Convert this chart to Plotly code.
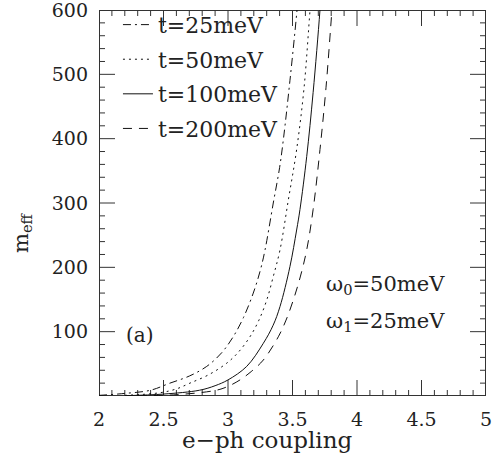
import plotly.graph_objects as go

# ---- data ----
x_t25 = [2.0, 2.2, 2.4, 2.55, 2.7, 2.835, 2.95, 3.04, 3.12, 3.196, 3.25, 3.287, 3.351, 3.40, 3.43, 3.48, 3.535, 3.56]
y_t25 = [1, 4, 9, 20, 31, 46, 67, 92, 122, 160, 195, 227, 300, 355, 400, 490, 600, 660]

x_t50 = [2.2, 2.47, 2.6, 2.705, 2.85, 2.99, 3.08, 3.17, 3.24, 3.30, 3.35, 3.403, 3.468, 3.532, 3.59, 3.636, 3.66]
y_t50 = [1, 5, 11, 20, 33, 51, 68, 92, 118, 149, 185, 227, 305, 383, 480, 600, 660]

x_t100 = [2.2, 2.5, 2.78, 2.9, 3.0, 3.145, 3.274, 3.35, 3.403, 3.48, 3.532, 3.558, 3.61, 3.66, 3.713, 3.74]
y_t100 = [0.5, 3, 9, 16, 25, 46, 82, 110, 139, 201, 258, 290, 372, 472, 600, 680]

x_t200 = [2.3, 2.6, 2.91, 3.0, 3.093, 3.18, 3.274, 3.39, 3.45, 3.506, 3.56, 3.61, 3.66, 3.713, 3.76, 3.806, 3.83]
y_t200 = [0.5, 2, 9, 15, 25, 38, 56, 92, 118, 149, 185, 227, 290, 383, 480, 600, 660]

series_names = ["t=25meV", "t=50meV", "t=100meV", "t=200meV"]

# axis ticks
x_major_ticks = [2, 2.5, 3, 3.5, 4, 4.5, 5]
y_major_ticks = [0, 100, 200, 300, 400, 500, 600]
x_minor_step = 0.1
y_minor_step = 20

X_RANGE = [2, 5]
Y_RANGE = [0, 600]

FONT = "DejaVu Serif"
INK = "#222222"
AX = "#333333"

# plot area size in px (for tick lengths)
PLOT_W, PLOT_H = 387, 386
PX_X = PLOT_W / (X_RANGE[1] - X_RANGE[0])
PX_Y = PLOT_H / (Y_RANGE[1] - Y_RANGE[0])
MAJOR_LEN, MINOR_LEN = 16, 6

fig = go.Figure()

# ---- frame and ticks drawn as line traces (through the axes' scales) ----
fx = [X_RANGE[0], X_RANGE[1], X_RANGE[1], X_RANGE[0], X_RANGE[0]]
fy = [Y_RANGE[0], Y_RANGE[0], Y_RANGE[1], Y_RANGE[1], Y_RANGE[0]]
fig.add_trace(go.Scatter(x=fx, y=fy, mode="lines", line=dict(color=AX, width=2),
                         showlegend=False, hoverinfo="skip"))

n_xminor = int(round((X_RANGE[1] - X_RANGE[0]) / x_minor_step))
x_minor_ticks = [round(X_RANGE[0] + i * x_minor_step, 3) for i in range(n_xminor + 1)]
x_minor_ticks = [v for v in x_minor_ticks if all(abs(v - m) > 1e-6 for m in x_major_ticks)]
n_yminor = int(round((Y_RANGE[1] - Y_RANGE[0]) / y_minor_step))
y_minor_ticks = [Y_RANGE[0] + i * y_minor_step for i in range(n_yminor + 1)]
y_minor_ticks = [v for v in y_minor_ticks if v not in y_major_ticks]

tx, ty = [], []
for vals, ln in ((x_major_ticks, MAJOR_LEN), (x_minor_ticks, MINOR_LEN)):
    d = ln / PX_Y
    for v in vals:
        tx += [v, v, None, v, v, None]
        ty += [Y_RANGE[0], Y_RANGE[0] + d, None, Y_RANGE[1], Y_RANGE[1] - d, None]
for vals, ln in ((y_major_ticks, MAJOR_LEN), (y_minor_ticks, MINOR_LEN)):
    d = ln / PX_X
    for v in vals:
        tx += [X_RANGE[0], X_RANGE[0] + d, None, X_RANGE[1], X_RANGE[1] - d, None]
        ty += [v, v, None, v, v, None]
fig.add_trace(go.Scatter(x=tx, y=ty, mode="lines", line=dict(color=AX, width=1),
                         showlegend=False, hoverinfo="skip", connectgaps=False))

# ---- data curves ----
styles = ["8px,4px,2px,4px", "2px,4px", "solid", "9px,7px"]
data = [(x_t25, y_t25), (x_t50, y_t50), (x_t100, y_t100), (x_t200, y_t200)]
for (xs, ys), name, dash in zip(data, series_names, styles):
    fig.add_trace(go.Scatter(
        x=xs, y=ys, mode="lines", name=name, legendgroup=name,
        line=dict(color="#111111", width=1, dash=dash, shape="spline"),
    ))

fig.update_layout(
    template="none",
    xaxis=dict(range=X_RANGE, tickmode="array", tickvals=x_major_ticks,
               ticktext=["2", "2.5", "3", "3.5", "4", "4.5", "5"],
               showline=False, ticks="", showgrid=False, zeroline=False,
               ticklabelstandoff=10, ticklabeloverflow="allow",
               tickfont=dict(family=FONT, size=19, color=INK)),
    yaxis=dict(range=Y_RANGE, tickmode="array", tickvals=y_major_ticks[1:],
               ticktext=["100", "200", "300", "400", "500", "600"],
               showline=False, ticks="", showgrid=False, zeroline=False,
               ticklabelstandoff=10, ticklabeloverflow="allow",
               tickfont=dict(family=FONT, size=19, color=INK)),
)

fig.add_annotation(x=2.32, y=95, xref="x", yref="y", text="(a)", showarrow=False,
                   font=dict(family=FONT, size=20, color=INK))
fig.add_annotation(x=4.22, y=173, xref="x", yref="y", text="ω<sub>0</sub>=50meV", showarrow=False,
                   font=dict(family=FONT, size=21, color=INK))
fig.add_annotation(x=4.22, y=115, xref="x", yref="y", text="ω<sub>1</sub>=25meV", showarrow=False,
                   font=dict(family=FONT, size=21, color=INK))
fig.add_annotation(x=(267 - 99) / PLOT_W, y=-0.115, xref="paper", yref="paper", yanchor="middle",
                   xanchor="center", text="e−ph coupling", showarrow=False,
                   font=dict(family=FONT, size=23, color=INK))
fig.add_annotation(x=(22 - 99) / PLOT_W, y=1 - (233 - 10) / PLOT_H, xref="paper", yref="paper",
                   xanchor="center", yanchor="middle", text="m<sub>eff</sub>", showarrow=False,
                   textangle=-90, font=dict(family=FONT, size=21, color=INK))

fig.update_layout(
    width=494, height=467,
    margin=dict(l=99, r=8, t=10, b=71, autoexpand=False),
    plot_bgcolor="white", paper_bgcolor="white",
    showlegend=True,
    legend=dict(x=0.049, y=1.016, xanchor="left", yanchor="top",
                bgcolor="rgba(0,0,0,0)", font=dict(family=FONT, size=22, color=INK),
                tracegroupgap=3, itemwidth=30),
)

fig.write_html("out.html", config={"displayModeBar": False},
               post_script="document.body.style.margin='0';document.body.style.overflow='hidden';")
